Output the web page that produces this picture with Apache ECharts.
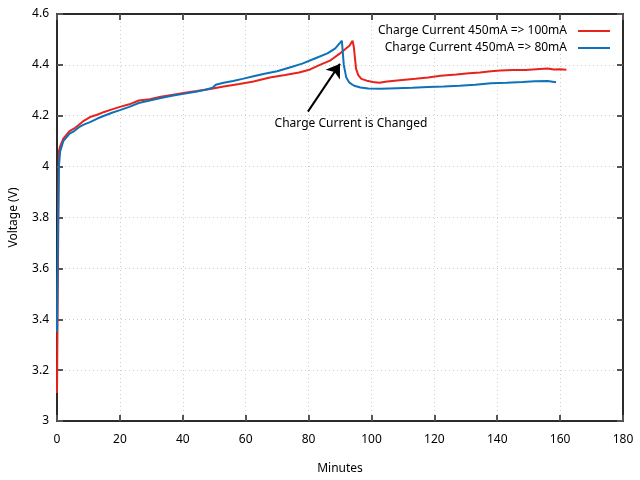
<!DOCTYPE html>
<html>
<head>
<meta charset="utf-8">
<script src="https://cdn.jsdelivr.net/npm/echarts@6/dist/echarts.min.js"></script>
<style>html,body{margin:0;padding:0;background:#fff}#c{width:640px;height:480px}</style>
</head>
<body>
<div id="c"></div>
<script>
var seriesNames = ['Charge Current 450mA => 100mA', 'Charge Current 450mA => 80mA'];
var xTicks = [0, 20, 40, 60, 80, 100, 120, 140, 160, 180];
var yTicks = [3, 3.2, 3.4, 3.6, 3.8, 4, 4.2, 4.4, 4.6];

var redMin = [0, 0.3, 0.6, 1, 2, 3, 4, 5.5, 7, 8.5, 10.5, 13, 15, 17.5, 20, 23, 26, 29.5, 33, 37, 40.7, 44.5, 48.7, 53, 58, 62.5, 67.7, 72.5, 77, 80.5, 83.6, 87, 90, 92, 93, 94, 94.4, 95.1, 95.8, 96.8, 98.5, 100.5, 102.5, 105, 109, 114, 118, 122, 127, 131, 134.5, 138, 141, 145, 149, 153.6, 156, 158, 160, 162];
var redV = [3.11, 3.6, 4.06, 4.08, 4.11, 4.125, 4.14, 4.15, 4.165, 4.18, 4.195, 4.205, 4.215, 4.225, 4.235, 4.245, 4.26, 4.265, 4.275, 4.283, 4.29, 4.297, 4.305, 4.315, 4.325, 4.335, 4.35, 4.36, 4.37, 4.382, 4.4, 4.418, 4.445, 4.465, 4.475, 4.495, 4.47, 4.385, 4.36, 4.345, 4.338, 4.333, 4.33, 4.335, 4.34, 4.345, 4.35, 4.357, 4.362, 4.367, 4.37, 4.375, 4.378, 4.38, 4.38, 4.384, 4.386, 4.382, 4.383, 4.381];

var blueMin = [0, 0.3, 0.6, 1, 2, 3, 4, 5.5, 7, 8.5, 10.5, 13, 15, 17.5, 20, 23, 26, 29.5, 33, 37, 40.7, 44.5, 47.5, 49.5, 50.5, 53, 56, 59, 62.5, 66, 70, 74, 78, 82, 86, 88.5, 90.6, 91.2, 92, 93, 94.5, 96.5, 99, 103, 108, 113, 118, 123, 128, 133, 138, 143, 148, 152, 156, 158.7];
var blueV = [3.35, 3.75, 4.0, 4.06, 4.1, 4.115, 4.13, 4.14, 4.155, 4.165, 4.175, 4.19, 4.2, 4.212, 4.222, 4.235, 4.25, 4.26, 4.27, 4.28, 4.287, 4.295, 4.303, 4.31, 4.322, 4.33, 4.337, 4.345, 4.355, 4.365, 4.375, 4.39, 4.405, 4.425, 4.445, 4.465, 4.495, 4.4, 4.35, 4.33, 4.318, 4.311, 4.307, 4.306, 4.308, 4.31, 4.313, 4.315, 4.318, 4.322, 4.328, 4.33, 4.333, 4.336, 4.337, 4.332];

var annoText = 'Charge Current is Changed';
var arrowFrom = [79.8, 4.216];
var arrowTo = [90.0, 4.404];
var textAt = [93.5, 4.17];

function zip(a, b) { return a.map(function (v, i) { return [v, b[i]]; }); }

var FONT = 'Noto Sans';
var axisLineStyle = { color: '#2b2b2b', width: 2 };
var tickStyle = { color: '#555', width: 2 };

var chart = echarts.init(document.getElementById('c'), null, { renderer: 'canvas' });
chart.setOption({
  backgroundColor: '#fff',
  animation: false,
  textStyle: { fontFamily: FONT },
  grid: { left: 57, right: 17, top: 14, bottom: 58, containLabel: false },
  legend: {
    right: 25, top: 20, orient: 'vertical', align: 'right',
    itemWidth: 32, itemHeight: 2, itemGap: 5,
    icon: 'rect',
    textStyle: { fontFamily: FONT, fontSize: 12, color: '#000', padding: [0, 6, 0, 0] },
    data: seriesNames
  },
  xAxis: [{
    type: 'value', min: 0, max: 180, interval: 20,
    name: 'Minutes', nameLocation: 'middle', nameGap: 42,
    nameTextStyle: { fontFamily: FONT, fontSize: 12, color: '#000' },
    axisLine: { show: true, onZero: false, lineStyle: axisLineStyle },
    axisTick: { show: true, inside: true, length: 6, lineStyle: tickStyle },
    axisLabel: { fontFamily: FONT, fontSize: 12, color: '#000', margin: 13 },
    splitLine: { show: true, lineStyle: { color: '#cfcfcf', type: [1, 3], width: 1 } }
  }, {
    type: 'value', min: 0, max: 180, interval: 20, position: 'top',
    axisLine: { show: true, onZero: false, lineStyle: axisLineStyle },
    axisTick: { show: true, inside: true, length: 6, lineStyle: tickStyle },
    axisLabel: { show: false }, splitLine: { show: false }
  }],
  yAxis: [{
    type: 'value', min: 3, max: 4.6, interval: 0.2,
    name: 'Voltage (V)', nameLocation: 'middle', nameGap: 37, nameRotate: 90,
    nameTextStyle: { fontFamily: FONT, fontSize: 12, color: '#000' },
    axisLine: { show: true, onZero: false, lineStyle: axisLineStyle },
    axisTick: { show: true, inside: true, length: 6, lineStyle: tickStyle },
    axisLabel: { fontFamily: FONT, fontSize: 12, color: '#000', margin: 8,
      formatter: function (v) { return String(Math.round(v * 10) / 10); } },
    splitLine: { show: true, lineStyle: { color: '#cfcfcf', type: [1, 3], width: 1 } }
  }, {
    type: 'value', min: 3, max: 4.6, interval: 0.2, position: 'right',
    axisLine: { show: true, onZero: false, lineStyle: axisLineStyle },
    axisTick: { show: true, inside: true, length: 6, lineStyle: tickStyle },
    axisLabel: { show: false }, splitLine: { show: false }
  }],
  series: [{
    name: seriesNames[0], type: 'line', showSymbol: false, symbol: 'none',
    data: zip(redMin, redV),
    lineStyle: { color: '#e8231b', width: 2 }, itemStyle: { color: '#e8231b' },
    z: 3,
    markLine: {
      silent: true, symbol: ['none', 'arrow'], symbolSize: 13,
      lineStyle: { color: '#000', width: 2, type: 'solid' },
      itemStyle: { color: '#000' },
      label: { show: false },
      data: [[{ coord: arrowFrom }, { coord: arrowTo }]]
    },
    markPoint: {
      silent: true, symbol: 'circle', symbolSize: 0,
      label: { show: true, formatter: annoText, fontFamily: FONT, fontSize: 12, color: '#000', position: 'inside' },
      data: [{ coord: textAt }]
    }
  }, {
    name: seriesNames[1], type: 'line', showSymbol: false, symbol: 'none',
    data: zip(blueMin, blueV),
    lineStyle: { color: '#0d72b9', width: 2 }, itemStyle: { color: '#0d72b9' },
    z: 4
  }]
});
</script>
</body>
</html>
